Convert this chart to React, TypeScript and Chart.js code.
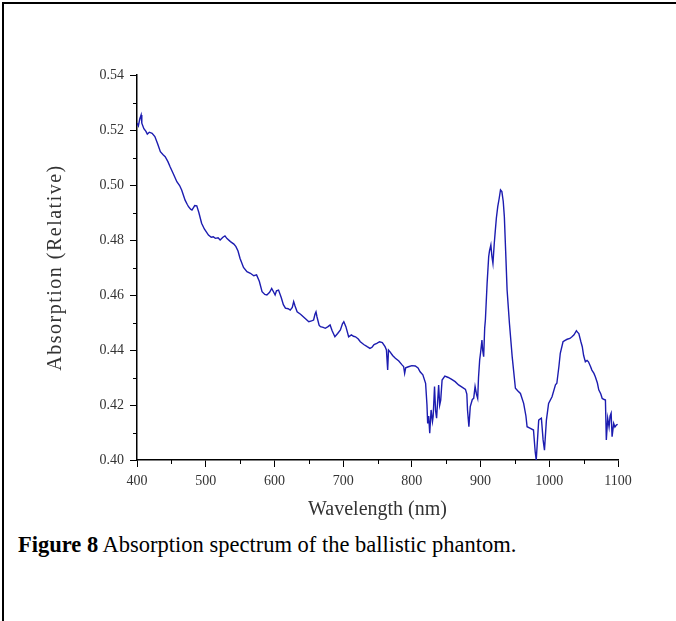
import React, { useEffect, useRef } from "react";
import { Chart, registerables } from "chart.js";

Chart.register(...registerables);

const wavelengths: number[] = [
  400, 402, 404, 406, 407, 410, 413, 415, 418, 422, 426, 430, 434, 438, 441, 445, 448, 453, 458, 462,
  465, 470, 473, 475, 478, 480, 484, 487, 490, 494, 498, 504, 508, 511, 514, 518, 521, 525, 528, 531,
  536, 541, 544, 547, 550, 555, 560, 565, 570, 574, 578, 582, 586, 589, 593, 596, 599, 601, 603, 606,
  610, 613, 616, 620, 623, 626, 628, 630, 633, 638, 642, 646, 650, 654, 657, 659, 660.5, 662, 665, 667,
  671, 674, 678, 681, 684, 688, 692, 696, 699, 701, 704, 708, 712, 715, 718, 722, 725, 730, 735, 739,
  742, 745, 749, 753, 757, 761, 763, 764.8, 766, 768, 772, 776, 781, 786, 788, 789.5, 791, 795, 800, 805,
  809, 812, 816, 820, 822, 823, 824.5, 826, 828, 830, 831, 833, 834.5, 836, 839, 840.5, 842, 844, 848, 853,
  858, 863, 868, 873, 878, 880, 881, 883, 885, 888, 890, 892, 894, 895.8, 897, 898.7, 900, 902, 903, 904.5,
  906, 907, 909.5, 911.8, 913, 915, 916.5, 918, 920, 921.5, 923, 925, 927, 929, 931, 933, 934.6, 936.5, 938.6, 942,
  946, 950.7, 954, 958, 962.7, 966, 967.7, 972.5, 977, 979.5, 981, 983, 984.6, 987, 988.5, 991, 993, 995.8, 999, 1004,
  1009, 1011, 1014, 1016, 1020, 1023, 1026, 1030, 1033, 1036, 1039.5, 1041, 1043, 1046, 1048, 1050, 1052.5, 1055, 1057, 1060,
  1062, 1065, 1067, 1070, 1072, 1075, 1077, 1080, 1081.7, 1083, 1085, 1087, 1088.5, 1090, 1091.4, 1093.7, 1095.5, 1097.6, 1099.5,
];

const absorption: number[] = [
  0.5225, 0.5215, 0.524, 0.5255, 0.5225, 0.5205, 0.5195, 0.5185, 0.5192, 0.5188, 0.5176, 0.515, 0.5121, 0.511, 0.5103, 0.5085, 0.5067, 0.504, 0.5012, 0.4998,
  0.4982, 0.4945, 0.493, 0.4921, 0.4912, 0.4909, 0.4925, 0.4924, 0.49, 0.4861, 0.484, 0.4818, 0.481, 0.4812, 0.4806, 0.4808, 0.48, 0.481, 0.4815, 0.4805,
  0.4794, 0.4785, 0.4776, 0.476, 0.4733, 0.47, 0.4685, 0.4679, 0.467, 0.4673, 0.465, 0.4612, 0.4602, 0.46, 0.461, 0.4624, 0.461, 0.46, 0.4615, 0.4618,
  0.459, 0.4565, 0.4552, 0.455, 0.4545, 0.4555, 0.4576, 0.456, 0.4539, 0.453, 0.4521, 0.4512, 0.4503, 0.4506, 0.4509, 0.453, 0.4539, 0.452, 0.449, 0.4485,
  0.4482, 0.4479, 0.4485, 0.4491, 0.447, 0.4448, 0.446, 0.4473, 0.4495, 0.4503, 0.4485, 0.4448, 0.4455, 0.445, 0.4448, 0.444, 0.443, 0.442, 0.4412, 0.4406,
  0.441, 0.442, 0.4424, 0.443, 0.4427, 0.4412, 0.44, 0.4327, 0.44, 0.4394, 0.438, 0.437, 0.436, 0.4345, 0.434, 0.4315, 0.4335, 0.4339, 0.4343, 0.4342,
  0.4335, 0.4321, 0.431, 0.4279, 0.42, 0.4133, 0.416, 0.4097, 0.4182, 0.414, 0.4158, 0.4267, 0.418, 0.4152, 0.4273, 0.42, 0.4218, 0.4291, 0.4305, 0.43,
  0.4293, 0.4285, 0.4273, 0.4265, 0.4257, 0.424, 0.4182, 0.4121, 0.4194, 0.422, 0.4224, 0.4267, 0.424, 0.4224, 0.43, 0.4364, 0.439, 0.4436, 0.44, 0.4376,
  0.448, 0.4509, 0.4642, 0.4739, 0.476, 0.4782, 0.474, 0.4715, 0.479, 0.4836, 0.488, 0.4921, 0.495, 0.4982, 0.4976, 0.494, 0.4885, 0.476, 0.4618, 0.4497,
  0.4376, 0.4261, 0.4252, 0.4242, 0.4206, 0.416, 0.4121, 0.4115, 0.4109, 0.403, 0.4, 0.408, 0.4145, 0.415, 0.4152, 0.4073, 0.4036, 0.4145, 0.4206, 0.423,
  0.4273, 0.4279, 0.434, 0.4388, 0.443, 0.4435, 0.4439, 0.4442, 0.4448, 0.4455, 0.447, 0.4465, 0.446, 0.443, 0.4412, 0.438, 0.4357, 0.4362, 0.4357, 0.434,
  0.4327, 0.4315, 0.4303, 0.428, 0.4255, 0.424, 0.4224, 0.422, 0.4218, 0.4073, 0.4152, 0.412, 0.416, 0.417, 0.4085, 0.4133, 0.412, 0.4127, 0.413,
];

const xMajorTicks: number[] = [400, 500, 600, 700, 800, 900, 1000, 1100];
const xMinorTicks: number[] = [450, 550, 650, 750, 850, 950, 1050];
const yMajorTicks: number[] = [0.4, 0.42, 0.44, 0.46, 0.48, 0.5, 0.52, 0.54];
const yMinorTicks: number[] = [0.41, 0.43, 0.45, 0.47, 0.49, 0.51, 0.53];

const xTitle = "Wavelength (nm)";
const yTitle = "Absorption (Relative)";

const SERIF = "'Liberation Serif', 'Times New Roman', serif";

// Adds letter spacing to the y-axis title only.
const yTitleSpacingPlugin = {
  id: "yTitleSpacing",
  afterLayout(chart: any) {
    const ys = chart.scales.y;
    if (!ys || ys.__spaced) return;
    const orig = ys.drawTitle;
    ys.drawTitle = function (...args: any[]) {
      const ctx = this.ctx;
      ctx.save();
      ctx.letterSpacing = "1.5px";
      orig.apply(this, args);
      ctx.restore();
    };
    ys.__spaced = true;
  },
};

const minorTickPlugin = {
  id: "minorTicks",
  afterDraw(chart: any) {
    const { ctx, scales } = chart;
    const xs = scales.x;
    const ys = scales.y;
    ctx.save();
    ctx.strokeStyle = "#000";
    ctx.lineWidth = 1;
    ctx.beginPath();
    xMinorTicks.forEach((v) => {
      const px = Math.round(xs.getPixelForValue(v)) + 0.5;
      ctx.moveTo(px, xs.top);
      ctx.lineTo(px, xs.top + 4);
    });
    yMinorTicks.forEach((v) => {
      const py = Math.round(ys.getPixelForValue(v)) + 0.5;
      ctx.moveTo(ys.right - 4, py);
      ctx.lineTo(ys.right, py);
    });
    ctx.stroke();
    ctx.restore();
  },
};

function SpectrumChart() {
  const ref = useRef<HTMLCanvasElement | null>(null);
  useEffect(() => {
    if (!ref.current) return;
    const data = wavelengths.map((w, i) => ({ x: w, y: absorption[i] }));
    const chart = new Chart(ref.current, {
      type: "line",
      data: {
        datasets: [
          {
            data,
            borderColor: "#1c1cb0",
            borderWidth: 1.4,
            pointRadius: 0,
            tension: 0,
            fill: false,
          },
        ],
      },
      options: {
        animation: false,
        responsive: false,
        maintainAspectRatio: false,
        layout: { padding: { left: 40, top: 75, right: 58, bottom: 0 } },
        plugins: { legend: { display: false }, tooltip: { enabled: false } },
        scales: {
          x: {
            type: "linear",
            min: 400,
            max: 1100,
            afterFit: (s: any) => {
              s.height = 70;
            },
            afterBuildTicks: (s: any) => {
              s.ticks = xMajorTicks.map((v) => ({ value: v }));
            },
            ticks: {
              padding: 6,
              color: "#333",
              font: { family: SERIF, size: 14 },
              maxRotation: 0,
              autoSkip: false,
              callback: (v: any) => String(v),
            },
            grid: { display: true, drawOnChartArea: false, drawTicks: true, tickLength: 7, color: "#000", tickWidth: 1 },
            border: { display: true, color: "#000", width: 1.5 },
            title: {
              display: true,
              text: xTitle,
              color: "#333",
              font: { family: SERIF, size: 20 },
              padding: { top: 0, bottom: 8 },
            },
          },
          y: {
            type: "linear",
            min: 0.4,
            max: 0.54,
            afterFit: (s: any) => {
              s.width = 97;
            },
            afterBuildTicks: (s: any) => {
              s.ticks = yMajorTicks.map((v) => ({ value: v }));
            },
            ticks: {
              padding: 6,
              color: "#333",
              font: { family: SERIF, size: 14 },
              autoSkip: false,
              callback: (v: any) => Number(v).toFixed(2),
            },
            grid: { display: true, drawOnChartArea: false, drawTicks: true, tickLength: 7, color: "#000", tickWidth: 1 },
            border: { display: true, color: "#000", width: 1.5 },
            title: {
              display: true,
              text: yTitle,
              color: "#333",
              font: { family: SERIF, size: 20 },
              padding: { top: 4, bottom: 4 },
            },
          },
        },
      },
      plugins: [yTitleSpacingPlugin, minorTickPlugin],
    });
    return () => chart.destroy();
  }, []);
  return (
    <canvas
      ref={ref}
      width={676}
      height={530}
      style={{ position: "absolute", left: 0, top: 0, width: 676, height: 530 }}
    />
  );
}

export default function App() {
  return (
    <div
      style={{
        position: "absolute",
        left: 0,
        top: 0,
        width: 676,
        height: 621,
        background: "#fff",
        overflow: "hidden",
      }}
    >
      <div
        style={{
          position: "absolute",
          left: 2,
          top: 2,
          width: 676,
          height: 621,
          borderTop: "2px solid #000",
          borderLeft: "2px solid #000",
          boxSizing: "border-box",
        }}
      />
      <SpectrumChart />
      <div
        style={{
          position: "absolute",
          left: 18,
          top: 530,
          fontFamily: SERIF,
          fontSize: 22.5,
          color: "#000",
          whiteSpace: "nowrap",
          lineHeight: "30px",
        }}
      >
        <b>Figure 8</b> Absorption spectrum of the ballistic phantom.
      </div>
    </div>
  );
}
